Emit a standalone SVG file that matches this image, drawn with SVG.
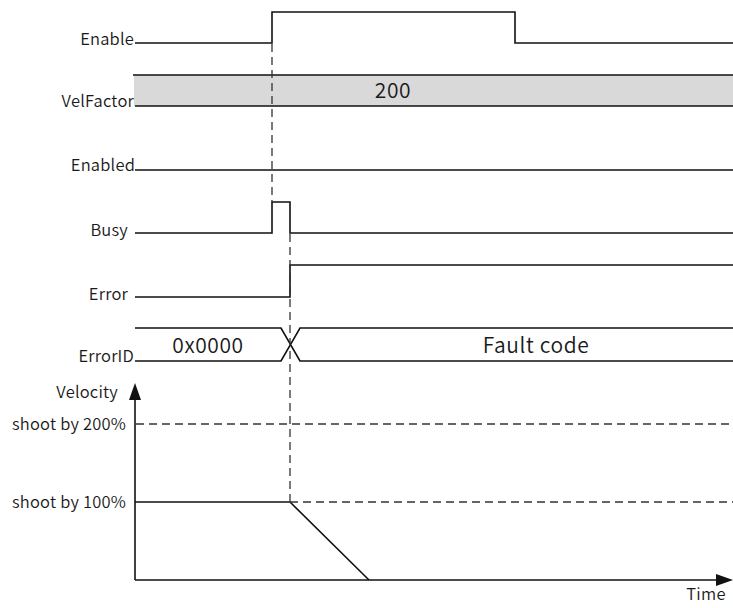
<svg xmlns="http://www.w3.org/2000/svg" width="733" height="608" viewBox="0 0 733 608">
<style>
text{font-family:"Noto Sans CJK SC","Noto Sans",sans-serif;font-size:16.5px;font-weight:350;letter-spacing:0.2px;fill:#1a1a1a}
.lbl{text-anchor:end}
.val{font-size:21px;text-anchor:middle;letter-spacing:0.6px}
.sig{fill:none;stroke:#111;stroke-width:1.6}
.dash{fill:none;stroke:#333;stroke-width:1.3;stroke-dasharray:8,5}
</style>
<rect width="733" height="608" fill="#fff"/>
<g id="enable">
<text class="lbl" x="134" y="45">Enable</text>
<path class="sig" d="M135,43 H272 V12 H515 V43 H733"/>
</g>
<g id="velfactor">
<rect x="134" y="75" width="599" height="31" fill="#d9d9d9"/>
<path class="sig" d="M133,75 H733 M135,106 H733"/>
<text class="lbl" x="134" y="107">VelFactor</text>
<text class="val" x="393" y="98">200</text>
</g>
<g id="enabled">
<text class="lbl" x="135" y="171">Enabled</text>
<path class="sig" d="M135,170 H733"/>
</g>
<g id="busy">
<text class="lbl" x="128" y="236">Busy</text>
<path class="sig" d="M135,233 H272 V202 H290 V233 H733"/>
</g>
<g id="error">
<text class="lbl" x="128" y="300">Error</text>
<path class="sig" d="M135,297 H290 V265 H733"/>
</g>
<g id="errorid">
<text class="lbl" x="134" y="362">ErrorID</text>
<path class="sig" d="M135,328 H281 L300,361 H733 M135,361 H281 L300,328 H733"/>
<text class="val" x="208" y="353">0x0000</text>
<text class="val" x="536" y="353">Fault code</text>
</g>
<g id="velocity">
<text class="lbl" x="118" y="398">Velocity</text>
<text class="lbl" x="126" y="430">shoot by 200%</text>
<text class="lbl" x="126" y="508">shoot by 100%</text>
<text x="706" y="600" text-anchor="middle">Time</text>
<path d="M135,383 L141,400 L129,400 Z" fill="#111"/>
<path class="sig" d="M135,580 V398"/>
<path class="sig" d="M135,580 H720"/>
<path d="M733,580 L716,574 L716,586 Z" fill="#111"/>
<path class="sig" d="M135,502 H290 L369,580"/>
</g>
<g id="connectors">
<path class="dash" d="M272,44 V202"/>
<path class="dash" d="M290,234 V502"/>
<path class="dash" d="M136,424 H733"/>
<path class="dash" d="M290,502 H733"/>
</g>
</svg>
